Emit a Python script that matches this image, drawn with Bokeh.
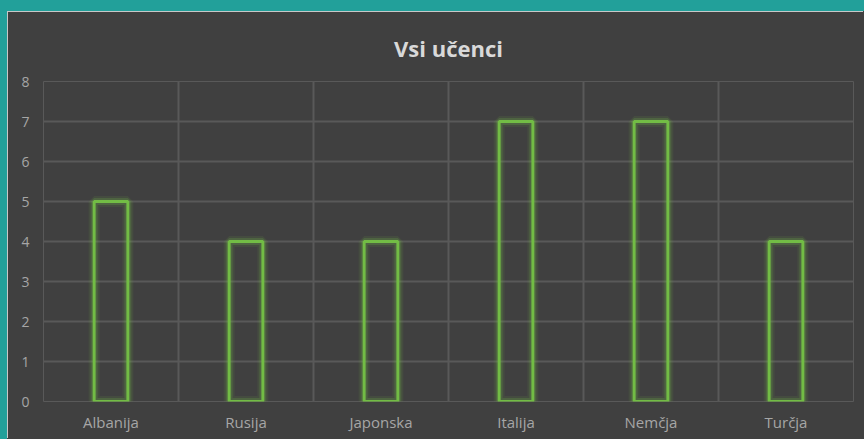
from bokeh.plotting import figure
from bokeh.models import FixedTicker, Range1d, Title
from bokeh.embed import file_html
from bokeh.resources import INLINE

categories = ["Albanija", "Rusija", "Japonska", "Italija", "Nemčja", "Turčja"]
values = [5, 4, 4, 7, 7, 4]
y_ticks = [0, 1, 2, 3, 4, 5, 6, 7, 8]

BG = "#404040"
GRID = "#595959"
GREEN = "#72BC45"
TEAL = "#22A09A"

xs = [i + 0.5 for i in range(len(categories))]

p = figure(width=856, height=427, output_backend="svg", toolbar_location=None,
           x_range=Range1d(0, len(categories)), y_range=Range1d(0, 8),
           min_border_left=35, min_border_right=11, min_border_top=69, min_border_bottom=38)
p.styles = {"border-left": "1px solid #C8C8C8", "border-top": "1px solid #C8C8C8"}
p.background_fill_color = BG
p.border_fill_color = BG
p.outline_line_color = GRID
p.outline_line_width = 1

t = Title(text="Vsi učenci", align="center", text_font="Open Sans", text_font_size="22px",
          text_font_style="bold", text_color="#D9D9D9", standoff=37)
p.add_layout(t, "above")
p.title.visible = False

# glow
p.vbar(x=xs, top=values, bottom=0, width=0.25, fill_alpha=0, line_color=GREEN,
       line_width=11, line_alpha=0.1)
p.vbar(x=xs, top=values, bottom=0, width=0.25, fill_alpha=0, line_color=GREEN,
       line_width=7, line_alpha=0.22)
p.vbar(x=xs, top=values, bottom=0, width=0.25, fill_alpha=0, line_color=GREEN,
       line_width=3)

p.xaxis.ticker = FixedTicker(ticks=xs)
p.xaxis.major_label_overrides = {x: c for x, c in zip(xs, categories)}
p.yaxis.ticker = FixedTicker(ticks=y_ticks)
p.xgrid.ticker = FixedTicker(ticks=list(range(len(categories) + 1)))
p.ygrid.ticker = FixedTicker(ticks=y_ticks)
for g in (p.xgrid, p.ygrid):
    g.grid_line_color = GRID
    g.grid_line_width = 2

for ax in (p.xaxis, p.yaxis):
    ax.axis_line_color = None
    ax.major_tick_line_color = None
    ax.minor_tick_line_color = None
    ax.major_label_text_color = "#A6A6A6"
    ax.major_label_text_font = "Open Sans"
p.xaxis.major_label_text_font_size = "15px"
p.yaxis.major_label_text_font_size = "14px"
p.xaxis.major_label_standoff = 4
p.yaxis.major_label_standoff = 8

body_style = (f"background-color:{BG}; border-top:11px solid {TEAL}; "
              f"border-left:7px solid {TEAL}; padding:0;")
page = file_html(p, INLINE).replace("<body>", f'<body style="{body_style}">')
open("out.html", "w").write(page)
